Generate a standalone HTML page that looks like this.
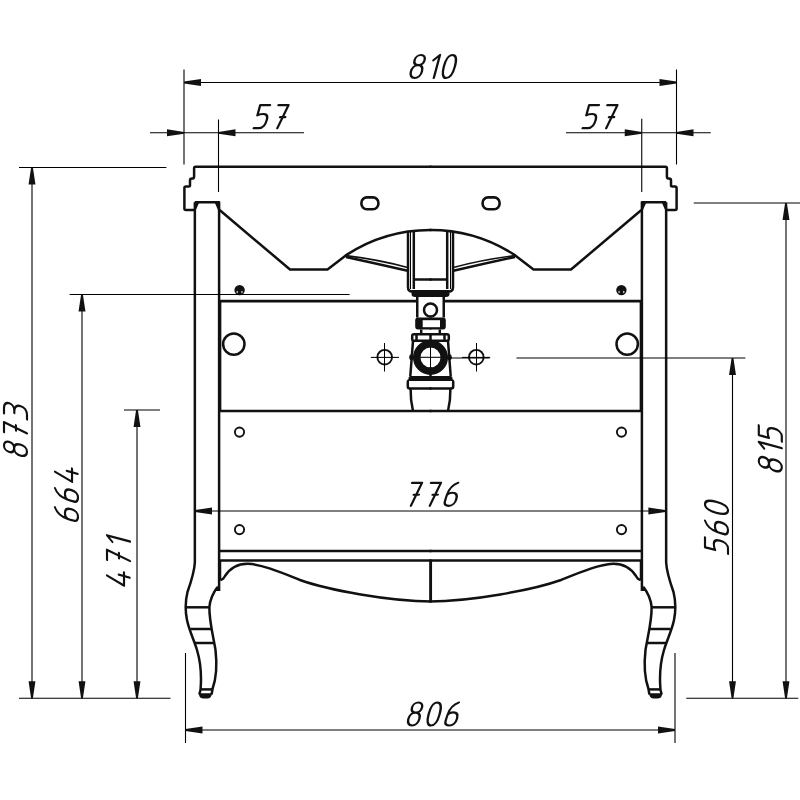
<!DOCTYPE html>
<html><head><meta charset="utf-8"><style>html,body{margin:0;padding:0;background:#fff;width:800px;height:800px;overflow:hidden}svg{display:block}</style></head>
<body><svg width="800" height="800" viewBox="0 0 800 800">
<style>
.dl{stroke:#000;stroke-width:1.1;fill:none}
.tn{stroke:#000;stroke-width:1.05;fill:none}
.md{stroke:#111;stroke-width:1.6;fill:none}
.th{stroke:#111;stroke-width:2.5;fill:none;stroke-linejoin:round}
.ar{fill:#111;stroke:none}
.t path{stroke:#111;stroke-width:2.35;fill:none;stroke-linecap:round;stroke-linejoin:round}
</style>
<rect width="800" height="800" fill="#fff"/>
<g id="L"><path class="th" d="M431.5,166.85H195.6Q194.1,166.85 194.1,168.35V176.5Q194.1,178.6 192,178.6Q190,178.6 190,180.5V185.5Q190,186.5 188.5,186.5H186Q184.4,186.5 184.4,188V208.6Q184.4,210.1 185.9,210.1H194.8"/><rect x="361.4" y="197.4" width="17" height="11.8" rx="5.5" ry="5.5" fill="none" stroke="#111" stroke-width="2.6"/><path class="th" d="M194.8,202.25H219.1V591"/><path class="ar" d="M194.8,202.25H199.3L195.9,210H194.8Z M219.1,202.25H214.6L218,210H219.1Z"/><path class="th" d="M194.85,202.25V562.5C194.4,572 191,582 187.5,592C185.5,600 185,610 187,620C189,630 194,640 197,650C200,660 201.8,675 200.5,690L199.3,694.5"/><path class="th" d="M217.5,587C213,593 210,600 209.4,607C209,620 213,635 215.5,650C217,663 217.5,675 212.5,689L211.6,694.5"/><path class="ar" d="M218.6,584V591H215.5Z"/><line class="th" x1="185.7" y1="607.3" x2="209.4" y2="607.3"/><line class="th" x1="190.4" y1="629" x2="212.2" y2="629"/><line class="th" x1="194.9" y1="643" x2="215" y2="643"/><line class="th" x1="200.3" y1="689.4" x2="212.6" y2="689.4"/><path class="ar" d="M198.8,693.3H212L211.5,695.5Q210.5,698.4 207.5,698.4H203.5Q199.8,698.4 199.2,695.5Z"/><path class="th" d="M219.6,210L290,269.5H327.5L345.75,255.4A154,154 0 0 1 431.5,230"/><path class="md" d="M346,255.6Q378,259.5 407.6,267.4"/><path class="th" d="M346,257Q376,263.5 407.6,270.8"/><path class="th" d="M408,231.5V287Q408,291.5 412,291.5"/><line class="tn" x1="410.5" y1="232" x2="410.5" y2="289"/><line class="th" x1="413.8" y1="232" x2="413.8" y2="289"/><line class="th" x1="413.8" y1="279.5" x2="431.5" y2="279.5"/><path class="ar" d="M411.5,290H431.5V297H415Q411.5,297 411.5,294Z"/><line x1="220" y1="301.2" x2="417.25" y2="301.2" stroke="#111" stroke-width="2.7"/><line class="th" x1="417.25" y1="297" x2="417.25" y2="317.5"/><path class="ar" d="M418,317.5H431.5V329.5H418Q415.2,329.5 415.2,326.5V320.5Q415.2,317.5 418,317.5Z"/><line class="th" x1="421.2" y1="329.5" x2="421.2" y2="333.2"/><path class="th" d="M431.5,334.2H414Q412.2,334.2 412.2,336V339Q412.2,340.8 414,340.8H431.5"/><line class="th" x1="416.5" y1="334.5" x2="416.5" y2="340.5"/><path class="th" d="M413,341L410.3,376"/><path class="ar" d="M408.5,378Q408.5,376 410.5,376H431.5V381H408.5Z"/><path class="th" d="M409,380.5Q407.8,380.5 407.8,382.5V386.5Q407.8,388.5 410,388.5H431.5"/><path class="th" d="M410.6,388.5Q410.4,400 413,411"/><line class="th" x1="220.1" y1="301" x2="220.1" y2="411"/><line class="th" x1="220" y1="411" x2="431.5" y2="411"/><circle class="th" cx="233.8" cy="344.1" r="10.7"/><circle cx="239.6" cy="290.1" r="5.2" fill="#111"/><ellipse cx="237.3" cy="292" rx="0.8" ry="1.3" fill="#bbb"/><ellipse cx="241.9" cy="292" rx="0.8" ry="1.3" fill="#bbb"/><circle cx="384.7" cy="357.2" r="7.3" fill="none" stroke="#111" stroke-width="1.9"/><line class="tn" x1="370.8" y1="357.4" x2="399" y2="357.4"/><line class="tn" x1="384.5" y1="343" x2="384.5" y2="371.5"/><circle cx="239.5" cy="432.1" r="4.6" fill="none" stroke="#111" stroke-width="1.9"/><circle cx="239.5" cy="529.6" r="4.6" fill="none" stroke="#111" stroke-width="1.9"/><line class="th" x1="219" y1="550.9" x2="431.5" y2="550.9"/><line class="th" x1="219" y1="560.6" x2="431.5" y2="560.6"/><line class="th" x1="220" y1="560.3" x2="220" y2="580"/><path class="th" d="M220.6,579.4Q222.5,580.5 225,576C231,567 238,563.6 248,563.8C262,564.5 280,572 300,580C328,590 390,601.4 431.5,601.4"/></g>
<g transform="translate(861,0) scale(-1,1)"><path class="th" d="M431.5,166.85H195.6Q194.1,166.85 194.1,168.35V176.5Q194.1,178.6 192,178.6Q190,178.6 190,180.5V185.5Q190,186.5 188.5,186.5H186Q184.4,186.5 184.4,188V208.6Q184.4,210.1 185.9,210.1H194.8"/><rect x="361.4" y="197.4" width="17" height="11.8" rx="5.5" ry="5.5" fill="none" stroke="#111" stroke-width="2.6"/><path class="th" d="M194.8,202.25H219.1V591"/><path class="ar" d="M194.8,202.25H199.3L195.9,210H194.8Z M219.1,202.25H214.6L218,210H219.1Z"/><path class="th" d="M194.85,202.25V562.5C194.4,572 191,582 187.5,592C185.5,600 185,610 187,620C189,630 194,640 197,650C200,660 201.8,675 200.5,690L199.3,694.5"/><path class="th" d="M217.5,587C213,593 210,600 209.4,607C209,620 213,635 215.5,650C217,663 217.5,675 212.5,689L211.6,694.5"/><path class="ar" d="M218.6,584V591H215.5Z"/><line class="th" x1="185.7" y1="607.3" x2="209.4" y2="607.3"/><line class="th" x1="190.4" y1="629" x2="212.2" y2="629"/><line class="th" x1="194.9" y1="643" x2="215" y2="643"/><line class="th" x1="200.3" y1="689.4" x2="212.6" y2="689.4"/><path class="ar" d="M198.8,693.3H212L211.5,695.5Q210.5,698.4 207.5,698.4H203.5Q199.8,698.4 199.2,695.5Z"/><path class="th" d="M219.6,210L290,269.5H327.5L345.75,255.4A154,154 0 0 1 431.5,230"/><path class="md" d="M346,255.6Q378,259.5 407.6,267.4"/><path class="th" d="M346,257Q376,263.5 407.6,270.8"/><path class="th" d="M408,231.5V287Q408,291.5 412,291.5"/><line class="tn" x1="410.5" y1="232" x2="410.5" y2="289"/><line class="th" x1="413.8" y1="232" x2="413.8" y2="289"/><line class="th" x1="413.8" y1="279.5" x2="431.5" y2="279.5"/><path class="ar" d="M411.5,290H431.5V297H415Q411.5,297 411.5,294Z"/><line x1="220" y1="301.2" x2="417.25" y2="301.2" stroke="#111" stroke-width="2.7"/><line class="th" x1="417.25" y1="297" x2="417.25" y2="317.5"/><path class="ar" d="M418,317.5H431.5V329.5H418Q415.2,329.5 415.2,326.5V320.5Q415.2,317.5 418,317.5Z"/><line class="th" x1="421.2" y1="329.5" x2="421.2" y2="333.2"/><path class="th" d="M431.5,334.2H414Q412.2,334.2 412.2,336V339Q412.2,340.8 414,340.8H431.5"/><line class="th" x1="416.5" y1="334.5" x2="416.5" y2="340.5"/><path class="th" d="M413,341L410.3,376"/><path class="ar" d="M408.5,378Q408.5,376 410.5,376H431.5V381H408.5Z"/><path class="th" d="M409,380.5Q407.8,380.5 407.8,382.5V386.5Q407.8,388.5 410,388.5H431.5"/><path class="th" d="M410.6,388.5Q410.4,400 413,411"/><line class="th" x1="220.1" y1="301" x2="220.1" y2="411"/><line class="th" x1="220" y1="411" x2="431.5" y2="411"/><circle class="th" cx="233.8" cy="344.1" r="10.7"/><circle cx="239.6" cy="290.1" r="5.2" fill="#111"/><ellipse cx="237.3" cy="292" rx="0.8" ry="1.3" fill="#bbb"/><ellipse cx="241.9" cy="292" rx="0.8" ry="1.3" fill="#bbb"/><circle cx="384.7" cy="357.2" r="7.3" fill="none" stroke="#111" stroke-width="1.9"/><line class="tn" x1="370.8" y1="357.4" x2="399" y2="357.4"/><line class="tn" x1="384.5" y1="343" x2="384.5" y2="371.5"/><circle cx="239.5" cy="432.1" r="4.6" fill="none" stroke="#111" stroke-width="1.9"/><circle cx="239.5" cy="529.6" r="4.6" fill="none" stroke="#111" stroke-width="1.9"/><line class="th" x1="219" y1="550.9" x2="431.5" y2="550.9"/><line class="th" x1="219" y1="560.6" x2="431.5" y2="560.6"/><line class="th" x1="220" y1="560.3" x2="220" y2="580"/><path class="th" d="M220.6,579.4Q222.5,580.5 225,576C231,567 238,563.6 248,563.8C262,564.5 280,572 300,580C328,590 390,601.4 431.5,601.4"/></g>
<line x1="430.6" y1="560.6" x2="430.6" y2="601.6" stroke="#111" stroke-width="2.9"/><circle class="th" cx="430.5" cy="310" r="6.5"/><rect x="422.7" y="320.2" width="17.3" height="7" fill="#fff"/><line class="th" x1="430.5" y1="334.2" x2="430.5" y2="340.8"/><circle cx="430.5" cy="357.5" r="13.75" fill="none" stroke="#111" stroke-width="7.5"/><ellipse cx="411.6" cy="357.3" rx="2.4" ry="3" fill="#111"/><ellipse cx="449.4" cy="357.3" rx="2.4" ry="3" fill="#111"/><line class="tn" x1="420" y1="357.3" x2="441" y2="357.3"/><line class="tn" x1="430.5" y1="346.5" x2="430.5" y2="368"/><line class="th" x1="430.5" y1="367" x2="430.5" y2="377"/><line class="tn" x1="449" y1="358" x2="489.5" y2="358"/>
<line class="dl" x1="184" y1="69.5" x2="184" y2="164.5"/><line class="dl" x1="676.5" y1="69.5" x2="676.5" y2="164.5"/><line class="dl" x1="184" y1="82.5" x2="676.5" y2="82.5"/><path class="ar" d="M184.00,81.60 L201.00,79.05 L201.00,85.95 L184.00,83.40Z"/><path class="ar" d="M676.50,81.60 L659.50,79.05 L659.50,85.95 L676.50,83.40Z"/><g class="t" transform="translate(409.2,78)"><path transform="translate(0.00,0) skewX(-15) scale(1,0.92)" d="M5.6,-14C2.2,-14 0.6,-16.5 0.6,-19.5C0.6,-22.8 2.8,-25 5.6,-25C8.4,-25 10.6,-22.8 10.6,-19.5C10.6,-16.5 9,-14 5.6,-14C2,-14 0,-11 0,-7C0,-3 2,0 5.5,0C9,0 11,-3 11,-7C11,-11 9.2,-14 5.6,-14Z"/><path transform="translate(19.00,0) skewX(-15) scale(1,0.92)" d="M0.5,-19.2L5.6,-25V0"/><path transform="translate(31.60,0) skewX(-15) scale(1,0.92)" d="M5.5,-25C1.5,-25 0,-19 0,-12.5C0,-6 1.5,0 5.5,0C9.5,0 11,-6 11,-12.5C11,-19 9.5,-25 5.5,-25Z"/></g><line class="dl" x1="218.5" y1="119.5" x2="218.5" y2="192"/><line class="dl" x1="150" y1="132.8" x2="304" y2="132.8"/><path class="ar" d="M184.00,131.90 L167.00,129.35 L167.00,136.25 L184.00,133.70Z"/><path class="ar" d="M218.50,131.90 L235.50,129.35 L235.50,136.25 L218.50,133.70Z"/><g class="t" transform="translate(254.2,128.2)"><path transform="translate(0.00,0) skewX(-15) scale(1,0.92)" d="M9.6,-25H-0.2L-0.2,-14C1.5,-15 3.5,-15.4 5.5,-15.4C8.8,-15.4 10.4,-12.8 10.4,-8.8C10.4,-3.8 8.5,0 4.8,0H-0.5"/><path transform="translate(18.10,0) skewX(-15) scale(1,0.92)" d="M0,-25H10L5,0M4.8,-12H10"/></g><line class="dl" x1="641.75" y1="118.75" x2="641.75" y2="192"/><line class="dl" x1="566" y1="132.8" x2="710.75" y2="132.8"/><path class="ar" d="M641.75,131.90 L624.75,129.35 L624.75,136.25 L641.75,133.70Z"/><path class="ar" d="M676.50,131.90 L693.50,129.35 L693.50,136.25 L676.50,133.70Z"/><g class="t" transform="translate(583.1,128.2)"><path transform="translate(0.00,0) skewX(-15) scale(1,0.92)" d="M9.6,-25H-0.2L-0.2,-14C1.5,-15 3.5,-15.4 5.5,-15.4C8.8,-15.4 10.4,-12.8 10.4,-8.8C10.4,-3.8 8.5,0 4.8,0H-0.5"/><path transform="translate(18.10,0) skewX(-15) scale(1,0.92)" d="M0,-25H10L5,0M4.8,-12H10"/></g><line class="dl" x1="19" y1="167.5" x2="166.4" y2="167.5"/><line class="dl" x1="19" y1="698.25" x2="170.5" y2="698.25"/><line class="dl" x1="32" y1="167.5" x2="32" y2="698.25"/><path class="ar" d="M31.10,167.50 L28.55,184.50 L35.45,184.50 L32.90,167.50Z"/><path class="ar" d="M31.10,698.25 L28.55,681.25 L35.45,681.25 L32.90,698.25Z"/><g class="t" transform="translate(27,457.3) rotate(-90)"><path transform="translate(0.00,0) skewX(-15) scale(1,0.92)" d="M5.6,-14C2.2,-14 0.6,-16.5 0.6,-19.5C0.6,-22.8 2.8,-25 5.6,-25C8.4,-25 10.6,-22.8 10.6,-19.5C10.6,-16.5 9,-14 5.6,-14C2,-14 0,-11 0,-7C0,-3 2,0 5.5,0C9,0 11,-3 11,-7C11,-11 9.2,-14 5.6,-14Z"/><path transform="translate(19.00,0) skewX(-15) scale(1,0.92)" d="M0,-25H10L5,0M4.8,-12H10"/><path transform="translate(37.90,0) skewX(-15) scale(1,0.92)" d="M0,-25H5.5C9,-25 11.4,-23 11.4,-19.6C11.4,-16.2 9,-13.8 5,-13.8H3M5,-13.8C9,-13.8 11.6,-11.2 11.6,-7C11.6,-2.5 8.5,0 4.5,0H0"/></g><line class="dl" x1="69.6" y1="294.5" x2="349.6" y2="294.5"/><line class="dl" x1="82" y1="294.5" x2="82" y2="698.25"/><path class="ar" d="M81.10,294.50 L78.55,311.50 L85.45,311.50 L82.90,294.50Z"/><path class="ar" d="M81.10,698.25 L78.55,681.25 L85.45,681.25 L82.90,698.25Z"/><g class="t" transform="translate(78,521.8) rotate(-90)"><path transform="translate(0.00,0) skewX(-15) scale(1,0.92)" d="M8.3,-25C3.5,-23 0.8,-18.5 0.3,-12C0,-8 0,-6 0,-4.5C0,-1.5 2,0 5.2,0C8.5,0 10.8,-3 10.8,-7.5C10.8,-12 8.5,-14.2 5.3,-14.2C2.8,-14.2 1,-13 0.4,-11.5"/><path transform="translate(19.20,0) skewX(-15) scale(1,0.92)" d="M8.3,-25C3.5,-23 0.8,-18.5 0.3,-12C0,-8 0,-6 0,-4.5C0,-1.5 2,0 5.2,0C8.5,0 10.8,-3 10.8,-7.5C10.8,-12 8.5,-14.2 5.3,-14.2C2.8,-14.2 1,-13 0.4,-11.5"/><path transform="translate(38.40,0) skewX(-15) scale(1,0.92)" d="M5.5,-25L0,-6.5H13.2M9.5,-12.2V-0.4"/></g><line class="dl" x1="124" y1="410" x2="160" y2="410"/><line class="dl" x1="137" y1="410" x2="137" y2="698.25"/><path class="ar" d="M136.10,410.00 L133.55,427.00 L140.45,427.00 L137.90,410.00Z"/><path class="ar" d="M136.10,698.25 L133.55,681.25 L140.45,681.25 L137.90,698.25Z"/><g class="t" transform="translate(130,587.2) rotate(-90)"><path transform="translate(0.00,0) skewX(-15) scale(1,0.92)" d="M5.5,-25L0,-6.5H13.2M9.5,-12.2V-0.4"/><path transform="translate(21.20,0) skewX(-15) scale(1,0.92)" d="M0,-25H10L5,0M4.8,-12H10"/><path transform="translate(40.10,0) skewX(-15) scale(1,0.92)" d="M0.5,-19.2L5.6,-25V0"/></g><line class="dl" x1="185.5" y1="653" x2="185.5" y2="743"/><line class="dl" x1="675" y1="653" x2="675" y2="743"/><line class="dl" x1="185.5" y1="730" x2="675" y2="730"/><path class="ar" d="M185.50,729.10 L202.50,726.55 L202.50,733.45 L185.50,730.90Z"/><path class="ar" d="M675.00,729.10 L658.00,726.55 L658.00,733.45 L675.00,730.90Z"/><g class="t" transform="translate(406.6,725.5)"><path transform="translate(0.00,0) skewX(-15) scale(1,0.92)" d="M5.6,-14C2.2,-14 0.6,-16.5 0.6,-19.5C0.6,-22.8 2.8,-25 5.6,-25C8.4,-25 10.6,-22.8 10.6,-19.5C10.6,-16.5 9,-14 5.6,-14C2,-14 0,-11 0,-7C0,-3 2,0 5.5,0C9,0 11,-3 11,-7C11,-11 9.2,-14 5.6,-14Z"/><path transform="translate(19.00,0) skewX(-15) scale(1,0.92)" d="M5.5,-25C1.5,-25 0,-19 0,-12.5C0,-6 1.5,0 5.5,0C9.5,0 11,-6 11,-12.5C11,-19 9.5,-25 5.5,-25Z"/><path transform="translate(37.80,0) skewX(-15) scale(1,0.92)" d="M8.3,-25C3.5,-23 0.8,-18.5 0.3,-12C0,-8 0,-6 0,-4.5C0,-1.5 2,0 5.2,0C8.5,0 10.8,-3 10.8,-7.5C10.8,-12 8.5,-14.2 5.3,-14.2C2.8,-14.2 1,-13 0.4,-11.5"/></g><line class="dl" x1="195" y1="511" x2="665.4" y2="511"/><path class="ar" d="M195.00,510.10 L212.00,507.55 L212.00,514.45 L195.00,511.90Z"/><path class="ar" d="M665.40,510.10 L648.40,507.55 L648.40,514.45 L665.40,511.90Z"/><g class="t" transform="translate(405.9,505.8)"><path transform="translate(0.00,0) skewX(-15) scale(1,0.92)" d="M0,-25H10L5,0M4.8,-12H10"/><path transform="translate(18.90,0) skewX(-15) scale(1,0.92)" d="M0,-25H10L5,0M4.8,-12H10"/><path transform="translate(37.80,0) skewX(-15) scale(1,0.92)" d="M8.3,-25C3.5,-23 0.8,-18.5 0.3,-12C0,-8 0,-6 0,-4.5C0,-1.5 2,0 5.2,0C8.5,0 10.8,-3 10.8,-7.5C10.8,-12 8.5,-14.2 5.3,-14.2C2.8,-14.2 1,-13 0.4,-11.5"/></g><line class="dl" x1="693.75" y1="203" x2="800" y2="203"/><line class="dl" x1="686.25" y1="698.25" x2="798.25" y2="698.25"/><line class="dl" x1="786" y1="203" x2="786" y2="698.25"/><path class="ar" d="M785.10,203.00 L782.55,220.00 L789.45,220.00 L786.90,203.00Z"/><path class="ar" d="M785.10,698.25 L782.55,681.25 L789.45,681.25 L786.90,698.25Z"/><g class="t" transform="translate(781.8,472.7) rotate(-90)"><path transform="translate(0.00,0) skewX(-15) scale(1,0.92)" d="M5.6,-14C2.2,-14 0.6,-16.5 0.6,-19.5C0.6,-22.8 2.8,-25 5.6,-25C8.4,-25 10.6,-22.8 10.6,-19.5C10.6,-16.5 9,-14 5.6,-14C2,-14 0,-11 0,-7C0,-3 2,0 5.5,0C9,0 11,-3 11,-7C11,-11 9.2,-14 5.6,-14Z"/><path transform="translate(19.00,0) skewX(-15) scale(1,0.92)" d="M0.5,-19.2L5.6,-25V0"/><path transform="translate(31.60,0) skewX(-15) scale(1,0.92)" d="M9.6,-25H-0.2L-0.2,-14C1.5,-15 3.5,-15.4 5.5,-15.4C8.8,-15.4 10.4,-12.8 10.4,-8.8C10.4,-3.8 8.5,0 4.8,0H-0.5"/></g><line class="dl" x1="516.5" y1="358" x2="745.4" y2="358"/><line class="dl" x1="732.5" y1="358" x2="732.5" y2="698.25"/><path class="ar" d="M731.60,358.00 L729.05,375.00 L735.95,375.00 L733.40,358.00Z"/><path class="ar" d="M731.60,698.25 L729.05,681.25 L735.95,681.25 L733.40,698.25Z"/><g class="t" transform="translate(728,553.2) rotate(-90)"><path transform="translate(0.00,0) skewX(-15) scale(1,0.92)" d="M9.6,-25H-0.2L-0.2,-14C1.5,-15 3.5,-15.4 5.5,-15.4C8.8,-15.4 10.4,-12.8 10.4,-8.8C10.4,-3.8 8.5,0 4.8,0H-0.5"/><path transform="translate(18.10,0) skewX(-15) scale(1,0.92)" d="M8.3,-25C3.5,-23 0.8,-18.5 0.3,-12C0,-8 0,-6 0,-4.5C0,-1.5 2,0 5.2,0C8.5,0 10.8,-3 10.8,-7.5C10.8,-12 8.5,-14.2 5.3,-14.2C2.8,-14.2 1,-13 0.4,-11.5"/><path transform="translate(37.30,0) skewX(-15) scale(1,0.92)" d="M5.5,-25C1.5,-25 0,-19 0,-12.5C0,-6 1.5,0 5.5,0C9.5,0 11,-6 11,-12.5C11,-19 9.5,-25 5.5,-25Z"/></g>
</svg></body></html>
